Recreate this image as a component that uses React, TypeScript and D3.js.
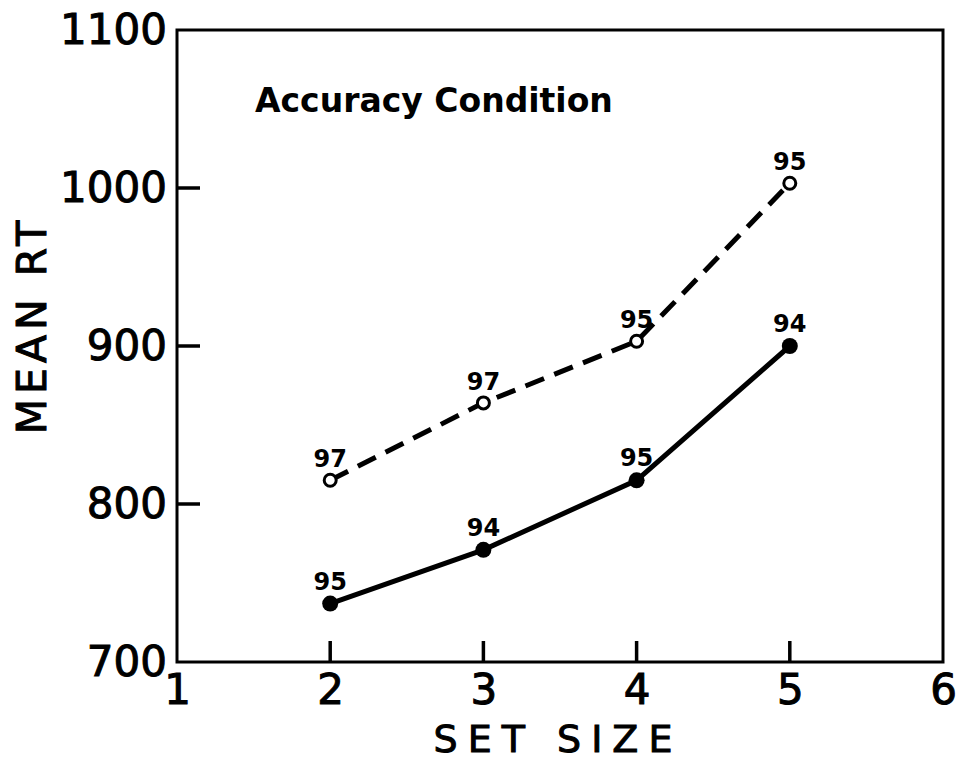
import React, { useRef, useEffect } from 'react';
import * as d3 from 'd3';

// set sizes on the x axis
const setSizes = [2, 3, 4, 5];
// dashed series, open circles
const openRT = [815, 864, 903, 1003];
const openAcc = ['97', '97', '95', '95'];
// solid series, filled circles
const filledRT = [737, 771, 815, 900];
const filledAcc = ['95', '94', '95', '94'];

const xTicks = [1, 2, 3, 4, 5, 6];
const yTicks = [700, 800, 900, 1000, 1100];

const App: React.FC = () => {
  const ref = useRef<SVGSVGElement>(null);

  useEffect(() => {
    const svg = d3.select(ref.current);
    svg.selectAll('*').remove();

    const font = "'DejaVu Sans', 'Liberation Sans', sans-serif";
    const x = d3.scaleLinear().domain([1, 6]).range([177, 943]);
    const y = d3.scaleLinear().domain([700, 1100]).range([662, 30]);

    // frame
    svg.append('rect')
      .attr('x', x(1)).attr('y', y(1100))
      .attr('width', x(6) - x(1)).attr('height', y(700) - y(1100))
      .attr('fill', 'none').attr('stroke', '#000').attr('stroke-width', 3);

    const yAxis = svg.append('g')
      .attr('transform', `translate(${x(1)},0)`)
      .call(d3.axisLeft(y).tickValues(yTicks).tickFormat(d3.format('d')).tickSize(0).tickPadding(10));
    yAxis.select('.domain').remove();
    yAxis.selectAll('text')
      .attr('font-family', font).attr('font-size', 42)
      .attr('fill', '#000').attr('stroke', '#000').attr('stroke-width', 1);

    const xAxis = svg.append('g')
      .attr('transform', `translate(0,${y(700)})`)
      .call(d3.axisBottom(x).tickValues(xTicks).tickFormat(d3.format('d')).tickSize(0).tickPadding(12));
    xAxis.select('.domain').remove();
    xAxis.selectAll('text')
      .attr('font-family', font).attr('font-size', 42)
      .attr('fill', '#000').attr('stroke', '#000').attr('stroke-width', 1);

    // axis titles
    svg.append('text')
      .attr('x', 558).attr('y', 752).attr('text-anchor', 'middle')
      .attr('font-family', font).attr('font-size', 38).attr('letter-spacing', 10)
      .attr('stroke', '#000').attr('stroke-width', 1)
      .text('SET SIZE');
    svg.append('text')
      .attr('transform', 'translate(46,325) rotate(-90)')
      .attr('text-anchor', 'middle')
      .attr('font-family', font).attr('font-size', 41).attr('letter-spacing', 5)
      .attr('stroke', '#000').attr('stroke-width', 1)
      .text('MEAN RT');

    svg.append('text')
      .attr('x', 255).attr('y', 112)
      .attr('font-family', font).attr('font-size', 33).attr('font-weight', 'bold')
      .text('Accuracy Condition');

    const line = d3.line<number>()
      .x((_, i) => x(setSizes[i]))
      .y(d => y(d));

    svg.append('path').datum(openRT)
      .attr('fill', 'none').attr('stroke', '#000').attr('stroke-width', 5)
      .attr('stroke-dasharray', '20 11').attr('d', line);
    svg.append('path').datum(filledRT)
      .attr('fill', 'none').attr('stroke', '#000').attr('stroke-width', 5)
      .attr('d', line);

    svg.append('g').selectAll('circle').data(openRT).join('circle')
      .attr('cx', (_, i) => x(setSizes[i])).attr('cy', d => y(d)).attr('r', 6)
      .attr('fill', '#fff').attr('stroke', '#000').attr('stroke-width', 3);
    svg.append('g').selectAll('circle').data(filledRT).join('circle')
      .attr('cx', (_, i) => x(setSizes[i])).attr('cy', d => y(d)).attr('r', 8)
      .attr('fill', '#000');

    const labels = (vals: number[], acc: string[], off: number) =>
      svg.append('g').selectAll('text').data(vals).join('text')
        .attr('x', (_, i) => x(setSizes[i])).attr('y', d => y(d) - off)
        .attr('text-anchor', 'middle')
        .attr('font-family', font).attr('font-size', 24).attr('font-weight', 'bold')
        .text((_, i) => acc[i]);
    labels(openRT, openAcc, 13);
    labels(filledRT, filledAcc, 14);

    // inward tick marks on the inner values
    const tickG = svg.append('g');
    yTicks.slice(1, 4).forEach(v => {
      tickG.append('line')
        .attr('x1', x(1)).attr('x2', x(1) + 23)
        .attr('y1', y(v)).attr('y2', y(v))
        .attr('stroke', 'black').attr('stroke-width', 3.5);
    });
    xTicks.slice(1, 5).forEach(v => {
      tickG.append('line')
        .attr('x1', x(v)).attr('x2', x(v))
        .attr('y1', y(700)).attr('y2', y(700) - 21)
        .attr('stroke', 'black').attr('stroke-width', 3.5);
    });
  }, []);

  return (
    <svg ref={ref} width="962" height="762"
      style={{ position: 'absolute', left: 0, top: 0, background: '#fff' }} />
  );
};

export default App;
